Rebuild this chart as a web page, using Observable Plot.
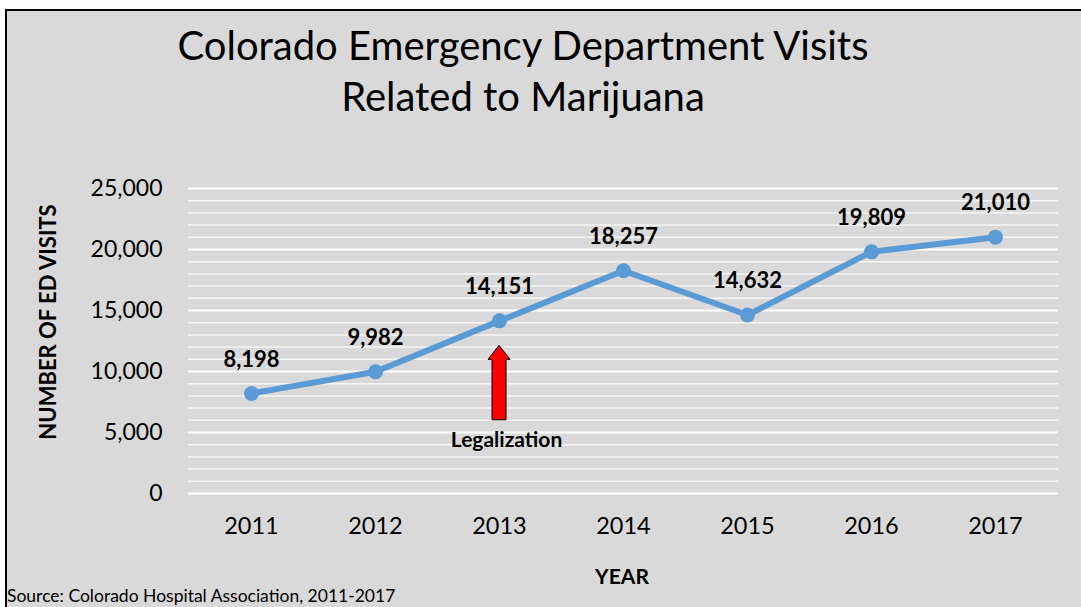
<!DOCTYPE html>
<html>
<head>
<meta charset="utf-8">
<script src="https://cdn.jsdelivr.net/npm/d3@7"></script>
<script src="https://cdn.jsdelivr.net/npm/@observablehq/plot@0.6"></script>
<style>
  html, body { margin: 0; padding: 0; background: #ffffff; width: 1081px; height: 607px; overflow: hidden; }
  body { position: relative; font-family: Lato, "Open Sans", sans-serif; }
  #frame { position: absolute; left: 5px; top: 9px; width: 1100px; height: 620px; background: #d9d9d9; border-left: 2px solid #000; border-top: 2px solid #000; }
  #chart { position: absolute; left: 0; top: 0; }
  .t { position: absolute; color: #000; white-space: nowrap; }
  #title { left: 0; width: 1046px; top: 20px; text-align: center; font-size: 40px; line-height: 51px; }
  #ylabel { left: 47px; top: 322px; transform: translate(-50%, -50%) rotate(-90deg); font-size: 22px; font-weight: bold; }
  #xlabel { left: 622px; top: 575px; transform: translate(-50%, -50%); font-size: 21px; font-weight: bold; }
  #source { left: 7px; top: 595px; transform: translateY(-50%); font-size: 17.5px; }
</style>
</head>
<body>
<div id="frame"></div>
<div id="chart"></div>
<div class="t" id="title">Colorado Emergency Department Visits<br>Related to Marijuana</div>
<div class="t" id="ylabel">NUMBER OF ED VISITS</div>
<div class="t" id="xlabel">YEAR</div>
<div class="t" id="source">Source: Colorado Hospital Association, 2011-2017</div>
<script>
const years = ["2011", "2012", "2013", "2014", "2015", "2016", "2017"];
const visits = [8198, 9982, 14151, 18257, 14632, 19809, 21010];
const majorTicks = [0, 5000, 10000, 15000, 20000, 25000];
const minorTicks = d3.range(1000, 25000, 1000).filter(v => v % 5000 !== 0);
const legalYear = "2013";
const arrowBase = 6000;
const arrowTip = 12100;
const legalLabelY = 4350;
const legalLabel = "Legalization";

const data = years.map((y, i) => ({year: y, value: visits[i]}));
const fmt = d3.format(",");

function arrowMark(index, scales) {
  const x = scales.x(legalYear);
  const y0 = scales.y(arrowBase);
  const y1 = scales.y(arrowTip);
  const shaftW = 7, headW = 11, headH = 14;
  const p = [
    [x - shaftW, y0], [x - shaftW, y1 + headH], [x - headW, y1 + headH],
    [x, y1], [x + headW, y1 + headH], [x + shaftW, y1 + headH], [x + shaftW, y0]
  ];
  const ns = "http://www.w3.org/2000/svg";
  const g = document.createElementNS(ns, "g");
  const poly = document.createElementNS(ns, "polygon");
  poly.setAttribute("points", p.map(d => d.join(",")).join(" "));
  poly.setAttribute("fill", "#ff0000");
  poly.setAttribute("stroke", "#000");
  poly.setAttribute("stroke-width", "1");
  g.appendChild(poly);
  return g;
}

const plot = Plot.plot({
  width: 1081,
  height: 607,
  marginLeft: 188,
  marginRight: 23,
  marginTop: 188,
  marginBottom: 114,
  style: {background: "transparent", fontFamily: "Lato, 'Open Sans', sans-serif", color: "#000"},
  x: {type: "point", domain: years, padding: 0.5, label: null},
  y: {domain: [0, 25000], label: null},
  marks: [
    Plot.ruleY(minorTicks, {stroke: "#ffffff", strokeWidth: 1.5, strokeOpacity: 0.75}),
    Plot.ruleY(majorTicks, {stroke: "#ffffff", strokeWidth: 2}),
    Plot.axisY(majorTicks, {tickSize: 0, tickPadding: 26, tickFormat: fmt, fontSize: 23, label: null}),
    Plot.axisX({tickSize: 0, tickPadding: 24, fontSize: 23.5, label: null}),
    arrowMark,
    Plot.text([legalLabel], {x: () => legalYear, y: () => legalLabelY, dx: 7, text: d => d, fontSize: 21, fontWeight: "bold", fill: "#000"}),
    Plot.line(data, {x: "year", y: "value", stroke: "#5b9bd5", strokeWidth: 6}),
    Plot.dot(data, {x: "year", y: "value", r: 7.5, fill: "#5b9bd5", stroke: "none"}),
    Plot.text(data, {x: "year", y: "value", text: d => fmt(d.value), dy: -34, fontSize: 22, fontWeight: "bold", fill: "#000"})
  ]
});
document.getElementById("chart").appendChild(plot);
</script>
</body>
</html>
